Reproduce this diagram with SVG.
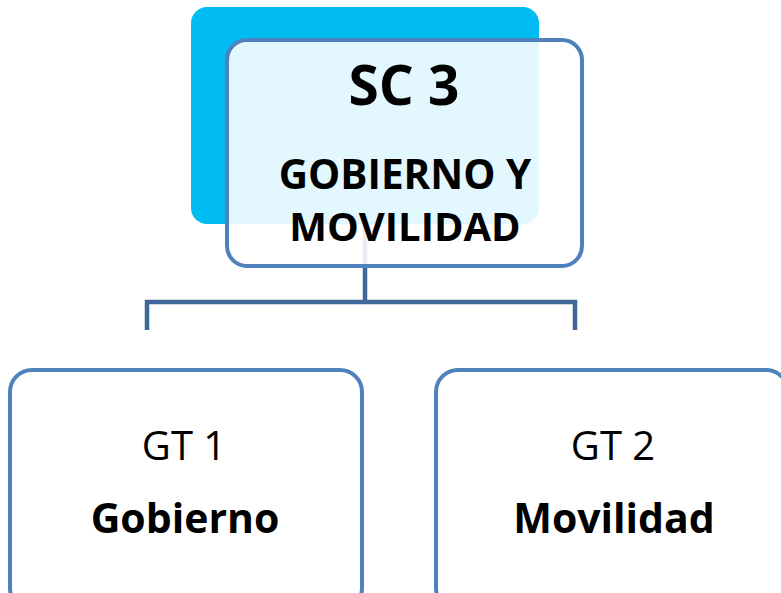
<svg xmlns="http://www.w3.org/2000/svg" width="781" height="593" viewBox="0 0 781 593">
<style>
.box{fill:#ffffff;stroke:#4F81BD;stroke-width:4}
.conn{fill:none;stroke:#3F6898;stroke-width:4.5}
.t{font-family:"Open Sans","Liberation Sans",sans-serif;text-anchor:middle;fill:#000}
.b{font-weight:bold}
</style>
<rect width="781" height="593" fill="#ffffff"/>
<g id="connectors">
<path class="conn" d="M365 200 V302 M147 330 V302 H575 V330"/>
</g>
<g id="sc3">
<rect x="191" y="7" width="348" height="217" rx="16" fill="#00BCF2"/>
<rect class="box" x="227" y="40" width="355" height="226" rx="20" style="fill-opacity:0.89"/>
<text class="t b" x="404" y="105" font-size="55">SC 3</text>
<text class="t b" x="405" y="189" font-size="40.5">GOBIERNO Y</text>
<text class="t b" x="405" y="241" font-size="40">MOVILIDAD</text>
</g>
<g id="gt1">
<rect class="box" x="10" y="370" width="352" height="240" rx="22"/>
<text class="t" x="184" y="460" font-size="40">GT 1</text>
<text class="t b" x="185" y="533" font-size="41">Gobierno</text>
</g>
<g id="gt2">
<rect class="box" x="436" y="370" width="352" height="240" rx="22"/>
<text class="t" x="613" y="460" font-size="40">GT 2</text>
<text class="t b" x="614" y="533" font-size="41">Movilidad</text>
</g>
</svg>
